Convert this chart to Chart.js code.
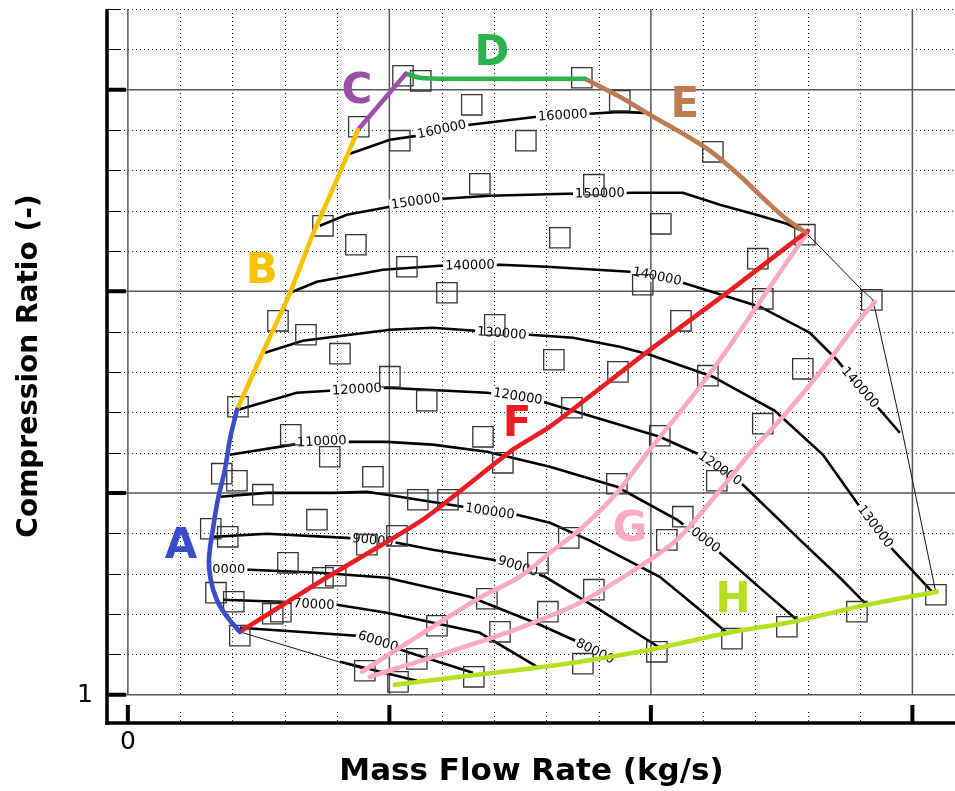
<!DOCTYPE html>
<html>
<head>
<meta charset="utf-8">
<script src="https://cdn.jsdelivr.net/npm/chart.js@4.4.1/dist/chart.umd.min.js"></script>
<style>
  html, body { margin: 0; padding: 0; background: #fff; }
  canvas { display: block; }
</style>
</head>
<body>
<canvas id="myChart" width="955" height="791"></canvas>
<script>
// axis ticks
const xTicks = [0, 0.02, 0.04, 0.06, 0.08, 0.1, 0.12, 0.14, 0.16, 0.18, 0.2, 0.22, 0.24, 0.26, 0.28, 0.3];
const yTicks = [1, 1.2, 1.4, 1.6, 1.8, 2, 2.2, 2.4, 2.6, 2.8, 3, 3.2, 3.4, 3.6, 3.8, 4, 4.2, 4.4];
const xMajor = [0, 0.1, 0.2, 0.3];
const yMajor = [1, 2, 3, 4];
const xTickLabels = [[0, '0']];
const yTickLabels = [[1, '1']];

// operating lines A..H  [mass flow, pressure ratio]
const lineA = [[0.0417,2.413],[0.0390,2.264],[0.0371,2.116],[0.0344,1.967],[0.0325,1.818],[0.0310,1.669],[0.0317,1.570],[0.0340,1.471],[0.0379,1.387],[0.0428,1.312]];
const lineB = [[0.0417,2.413],[0.0512,2.686],[0.0620,2.993],[0.0707,3.281],[0.0799,3.553],[0.0880,3.801]];
const lineC = [[0.0880,3.801],[0.1063,4.079]];
const lineD = [[0.1063,4.079],[0.1117,4.059],[0.1231,4.054],[0.1748,4.054]];
const lineE = [[0.1748,4.054],[0.1881,3.965],[0.1996,3.876],[0.2149,3.762],[0.2237,3.687],[0.2340,3.573],[0.2436,3.454],[0.2512,3.365],[0.2593,3.291]];
const lineF = [[0.0428,1.312],[0.0746,1.570],[0.1128,1.868],[0.1472,2.215],[0.1614,2.329],[0.1996,2.710],[0.2291,2.993],[0.2505,3.206],[0.2600,3.300]];
const lineG1 = [[0.0895,1.114],[0.1117,1.297],[0.1346,1.481],[0.1499,1.585],[0.1614,1.704],[0.1728,1.818],[0.1870,2.001],[0.1996,2.215],[0.2149,2.463],[0.2264,2.661],[0.2417,2.948],[0.2505,3.117],[0.2593,3.281]];
const lineG2 = [[0.0925,1.089],[0.1155,1.183],[0.1346,1.263],[0.1499,1.332],[0.1728,1.456],[0.1996,1.669],[0.2111,1.783],[0.2275,2.031],[0.2390,2.215],[0.2505,2.378],[0.2608,2.537],[0.2684,2.661],[0.2780,2.829],[0.2857,2.948]];
const lineH = [[0.1021,1.050],[0.1270,1.089],[0.1499,1.124],[0.1728,1.164],[0.1996,1.223],[0.2314,1.312],[0.2543,1.362],[0.2826,1.446],[0.3094,1.511]];

// map boundary (thin)
const boundLow = [[0.0428,1.312],[0.0895,1.129]];
const boundHigh = [[0.2593,3.291],[0.2799,3.018],[0.2849,2.958],[0.2964,2.289],[0.3090,1.506]];

// speed lines (rpm) and where their labels sit [point index, text]
const n50 = [[0.0811,1.164],[0.1105,1.069]];
const n60 = [[0.0428,1.332],[0.0876,1.293],[0.0956,1.263],[0.1078,1.208],[0.1319,1.109]];
const n60Lab = [[2,'60000']];
const n70 = [[0.0363,1.471],[0.0581,1.461],[0.0711,1.446],[0.0799,1.446],[0.0990,1.407],[0.1346,1.307],[0.1564,1.139]];
const n70Lab = [[2,'70000']];
const n80 = [[0.0310,1.620],[0.0386,1.620],[0.0467,1.620],[0.0734,1.605],[0.0990,1.580],[0.1308,1.486],[0.1576,1.347],[0.1728,1.258],[0.1786,1.213],[0.1836,1.188]];
const n80Lab = [[1,'0000'],[8,'80000']];
const n90 = [[0.0325,1.783],[0.0532,1.798],[0.0837,1.778],[0.0937,1.764],[0.1029,1.754],[0.1166,1.719],[0.1396,1.669],[0.1491,1.635],[0.1595,1.585],[0.1805,1.421],[0.2034,1.233]];
const n90Lab = [[3,'90000'],[7,'90000']];
const n100 = [[0.0352,1.982],[0.0532,2.001],[0.0784,2.001],[0.0914,2.006],[0.0990,1.992],[0.1281,1.932],[0.1384,1.907],[0.1488,1.892],[0.1614,1.853],[0.1767,1.764],[0.2034,1.585],[0.2187,1.421],[0.2291,1.307]];
const n100Lab = [[6,'100000']];
const n110 = [[0.0390,2.190],[0.0631,2.240],[0.0742,2.254],[0.0849,2.254],[0.0990,2.254],[0.1166,2.240],[0.1373,2.205],[0.1614,2.130],[0.1870,2.031],[0.2099,1.868],[0.2195,1.778],[0.2264,1.704],[0.2417,1.530],[0.2558,1.372]];
const n110Lab = [[2,'110000'],[10,'10000']];
const n120 = [[0.0421,2.413],[0.0646,2.497],[0.0772,2.507],[0.0876,2.512],[0.0990,2.522],[0.1373,2.497],[0.1491,2.477],[0.1587,2.453],[0.1855,2.349],[0.2034,2.279],[0.2187,2.190],[0.2264,2.120],[0.2352,2.041],[0.2570,1.768],[0.2723,1.580],[0.2826,1.446]];
const n120Lab = [[3,'120000'],[6,'120000'],[11,'120000']];
const n130 = [[0.0524,2.696],[0.0669,2.755],[0.1002,2.810],[0.1166,2.820],[0.1327,2.805],[0.1430,2.790],[0.1537,2.785],[0.1702,2.770],[0.1881,2.725],[0.1996,2.686],[0.2237,2.577],[0.2474,2.408],[0.2658,2.190],[0.2788,1.952],[0.2857,1.833],[0.2925,1.719],[0.3075,1.511]];
const n130Lab = [[5,'130000'],[14,'130000']];
const n140 = [[0.0620,2.993],[0.0723,3.048],[0.0975,3.107],[0.1193,3.127],[0.1308,3.127],[0.1423,3.132],[0.1602,3.122],[0.1920,3.097],[0.2023,3.072],[0.2122,3.043],[0.2417,2.924],[0.2608,2.795],[0.2711,2.661],[0.2799,2.522],[0.2876,2.413],[0.2952,2.299]];
const n140Lab = [[4,'140000'],[8,'140000'],[13,'140000']];
const n150 = [[0.0734,3.325],[0.0837,3.380],[0.1002,3.420],[0.1101,3.444],[0.1205,3.459],[0.1384,3.474],[0.1679,3.484],[0.1805,3.484],[0.1931,3.489],[0.2122,3.489],[0.2264,3.429],[0.2417,3.375],[0.2520,3.335],[0.2593,3.291]];
const n150Lab = [[3,'150000'],[7,'150000']];
const n160 = [[0.0849,3.682],[0.1002,3.752],[0.1105,3.771],[0.1201,3.801],[0.1308,3.826],[0.1564,3.866],[0.1663,3.871],[0.1767,3.881],[0.1881,3.890],[0.1977,3.885]];
const n160Lab = [[3,'160000'],[6,'160000']];

// measured points
const measX = [0.1052,0.1120,0.1315,0.0883,0.1040,0.1522,0.1736,0.1881,0.2237,0.1346,0.1782,0.0746,0.0872,0.1652,0.2038,0.2589,0.2409,0.1067,0.1220,0.1969,0.2428,0.2845,
  0.0574,0.0681,0.0811,0.1002,0.1143,0.0421,0.1403,0.2115,0.1629,0.1874,0.2218,0.2581,0.1698,0.2034,0.1358,0.2428,
  0.0623,0.0772,0.1434,0.0359,0.0417,0.0516,0.0937,0.1109,0.1224,0.0723,0.0317,0.0382,0.0914,0.1029,0.0612,0.0746,0.0795,
  0.0337,0.0405,0.0554,0.0585,0.0428,0.1373,0.1606,0.1686,0.1568,0.1182,0.1423,0.1105,0.1740,0.0906,0.1033,0.1323,
  0.1870,0.2122,0.2061,0.1782,0.2023,0.2310,0.2520,0.2788,0.2252,0.3090];
const measY = [4.069,4.044,3.925,3.816,3.747,3.747,4.059,3.945,3.692,3.533,3.529,3.325,3.231,3.266,3.335,3.281,3.162,3.122,2.993,3.033,2.963,2.958,
  2.854,2.785,2.691,2.577,2.458,2.428,2.834,2.854,2.661,2.601,2.582,2.616,2.423,2.284,2.279,2.344,
  2.289,2.180,2.150,2.096,2.061,1.992,2.081,1.967,1.967,1.868,1.823,1.783,1.744,1.788,1.654,1.580,1.590,
  1.506,1.461,1.402,1.412,1.293,1.476,1.412,1.778,1.654,1.342,1.312,1.178,1.154,1.119,1.064,1.089,
  2.046,1.883,1.768,1.521,1.213,1.278,1.337,1.412,2.061,1.496];

// region letters
const tagText = ['A','B','C','D','E','F','G','H'];
const tagX = [0.0203,0.0512,0.0876,0.1392,0.2130,0.1488,0.1920,0.2314];
const tagY = [1.734,3.097,3.990,4.178,3.920,2.339,1.818,1.466];
const tagColor = ['#3b4cc8','#f8c100','#9c4fa6','#2bb24c','#bb7b53','#ec1c24','#f9a9c3','#b3e11d'];

const toXY = a => a.map(p => ({x: p[0], y: p[1]}));

function speedLine(pts, labels) {
  return {data: toXY(pts), showLine: true, borderColor: '#000', borderWidth: 2.6,
    pointRadius: 0, order: 5, speedLabels: labels || []};
}
function thinLine(pts) {
  return {data: toXY(pts), showLine: true, borderColor: '#111', borderWidth: 1, pointRadius: 0, order: 5};
}
function opLine(pts, color, tension) {
  return {data: toXY(pts), showLine: true, borderColor: color, borderWidth: 4.6, pointRadius: 0,
    tension: tension, borderCapStyle: 'round', order: 1};
}

var datasets = [
  thinLine(boundLow), thinLine(boundHigh), speedLine(n50),
  speedLine(n60, n60Lab), speedLine(n70, n70Lab), speedLine(n80, n80Lab), speedLine(n90, n90Lab),
  speedLine(n100, n100Lab), speedLine(n110, n110Lab), speedLine(n120, n120Lab), speedLine(n130, n130Lab),
  speedLine(n140, n140Lab), speedLine(n150, n150Lab), speedLine(n160, n160Lab),
  {data: measX.map((v, i) => ({x: v, y: measY[i]})), pointStyle: 'rect', pointRadius: 14.4,
    pointBorderColor: '#333', pointBorderWidth: 1.3, pointBackgroundColor: 'rgba(0,0,0,0)', order: 3},
  opLine(lineA, tagColor[0], 0.4), opLine(lineB, tagColor[1], 0.2), opLine(lineC, tagColor[2], 0),
  opLine(lineD, tagColor[3], 0.2), opLine(lineE, tagColor[4], 0.3), opLine(lineF, tagColor[5], 0.2),
  opLine(lineG1, tagColor[6], 0.3), opLine(lineG2, tagColor[6], 0.3), opLine(lineH, tagColor[7], 0.3)
];

const isMajor = (v, list) => list.some(m => Math.abs(m - v) < 1e-9);

// tecplot style frame: dotted minor grid, solid major grid, thick axes
const framePlugin = {
  id: 'frame',
  beforeDatasetsDraw(chart) {
    const ctx = chart.ctx, xs = chart.scales.x, ys = chart.scales.y, ca = chart.chartArea;
    const base = ys.getPixelForValue(1);
    ctx.save();
    ctx.lineWidth = 1;
    ctx.strokeStyle = '#222';
    ctx.setLineDash([1, 3]);
    ctx.beginPath();
    xTicks.forEach(v => {
      if (isMajor(v, xMajor)) return;
      const px = Math.round(xs.getPixelForValue(v)) + 0.5;
      ctx.moveTo(px, ca.top); ctx.lineTo(px, base);
      ctx.moveTo(px, ca.bottom - 11); ctx.lineTo(px, ca.bottom);
    });
    yTicks.forEach(v => {
      if (isMajor(v, yMajor)) return;
      const py = Math.round(ys.getPixelForValue(v)) + 0.5;
      ctx.moveTo(ca.left, py); ctx.lineTo(ca.right, py);
    });
    ctx.stroke();
    ctx.setLineDash([]);
    ctx.strokeStyle = '#555';
    ctx.lineWidth = 1.5;
    ctx.beginPath();
    xMajor.forEach(v => {
      const px = xs.getPixelForValue(v);
      ctx.moveTo(px, ca.top); ctx.lineTo(px, base);
    });
    yMajor.forEach(v => {
      const py = ys.getPixelForValue(v);
      ctx.moveTo(ca.left, py); ctx.lineTo(ca.right, py);
    });
    ctx.stroke();
    // minor ticks on the left axis
    ctx.strokeStyle = '#000';
    ctx.lineWidth = 1;
    ctx.beginPath();
    yTicks.forEach(v => {
      if (isMajor(v, yMajor)) return;
      const py = Math.round(ys.getPixelForValue(v)) + 0.5;
      ctx.moveTo(ca.left, py); ctx.lineTo(ca.left + 12, py);
    });
    ctx.stroke();
    // major ticks
    ctx.lineWidth = 4;
    ctx.beginPath();
    xMajor.forEach(v => {
      const px = xs.getPixelForValue(v);
      ctx.moveTo(px, ca.bottom - 18); ctx.lineTo(px, ca.bottom);
    });
    yMajor.forEach(v => {
      const py = ys.getPixelForValue(v);
      ctx.moveTo(ca.left, py); ctx.lineTo(ca.left + 18, py);
    });
    ctx.stroke();
    // axis lines
    ctx.lineWidth = 3.5;
    ctx.beginPath();
    ctx.moveTo(ca.left - 1, ca.top); ctx.lineTo(ca.left - 1, ca.bottom + 2);
    ctx.moveTo(ca.left - 3, ca.bottom); ctx.lineTo(ca.right, ca.bottom);
    ctx.stroke();
    // tick labels
    ctx.fillStyle = '#000';
    ctx.font = '25px "DejaVu Sans"';
    ctx.textBaseline = 'middle';
    ctx.textAlign = 'center';
    xTickLabels.forEach(t => ctx.fillText(t[1], xs.getPixelForValue(t[0]), ca.bottom + 19));
    ctx.textAlign = 'right';
    yTickLabels.forEach(t => ctx.fillText(t[1], ca.left - 15, ys.getPixelForValue(t[0]) + 1));
    ctx.restore();
  },
  afterDatasetDraw(chart, args) {
    const ds = chart.data.datasets[args.index];
    if (!ds.speedLabels || !ds.speedLabels.length) return;
    const ctx = chart.ctx, xs = chart.scales.x, ys = chart.scales.y;
    const px = p => [xs.getPixelForValue(p.x), ys.getPixelForValue(p.y)];
    ctx.save();
    ctx.font = '13px "DejaVu Sans"';
    ctx.textAlign = 'center';
    ctx.textBaseline = 'middle';
    ds.speedLabels.forEach(l => {
      const i = l[0];
      const c = px(ds.data[i]);
      const a = px(ds.data[Math.max(i - 1, 0)]);
      const b = px(ds.data[Math.min(i + 1, ds.data.length - 1)]);
      let ang = Math.atan2(b[1] - a[1], b[0] - a[0]);
      if (ang > Math.PI / 2) ang -= Math.PI;
      if (ang < -Math.PI / 2) ang += Math.PI;
      const w = ctx.measureText(l[1]).width;
      ctx.save();
      ctx.translate(c[0], c[1]);
      ctx.rotate(ang);
      ctx.fillStyle = '#fff';
      ctx.fillRect(-w / 2 - 2, -6, w + 4, 12);
      ctx.fillStyle = '#000';
      ctx.fillText(l[1], 0, 0);
      ctx.restore();
    });
    ctx.restore();
  },
  afterDatasetsDraw(chart) {
    const ctx = chart.ctx, xs = chart.scales.x, ys = chart.scales.y;
    ctx.save();
    ctx.font = 'bold 42px "DejaVu Sans"';
    ctx.textAlign = 'center';
    ctx.textBaseline = 'middle';
    tagText.forEach((t, i) => {
      ctx.fillStyle = tagColor[i];
      ctx.fillText(t, xs.getPixelForValue(tagX[i]), ys.getPixelForValue(tagY[i]));
    });
    ctx.restore();
  }
};

const ctx = document.getElementById('myChart').getContext('2d');
let myChart = new Chart(ctx, {
  type: 'scatter',
  data: {datasets: datasets},
  options: {
    responsive: false,
    animation: false,
    layout: {autoPadding: false, padding: {top: 9, left: 0, right: 0, bottom: 0}},
    plugins: {legend: {display: false}, tooltip: {enabled: false}},
    scales: {
      x: {
        type: 'linear', min: -0.0076, max: 0.3163,
        grid: {display: false}, border: {display: false},
        ticks: {display: false},
        afterFit: s => { s.height = 68; },
        title: {display: true, text: 'Mass Flow Rate (kg/s)', color: '#000',
          font: {family: 'DejaVu Sans', size: 31, weight: 'bold'}, padding: {top: 0, bottom: 0}}
      },
      y: {
        type: 'linear', min: 0.86, max: 4.4,
        grid: {display: false}, border: {display: false},
        ticks: {display: false},
        afterFit: s => { s.width = 108; },
        title: {display: true, text: 'Compression Ratio (-)', color: '#000',
          font: {family: 'DejaVu Sans', size: 28, weight: 'bold'}, padding: {top: 13, bottom: 0}}
      }
    }
  },
  plugins: [framePlugin]
});
</script>
</body>
</html>
